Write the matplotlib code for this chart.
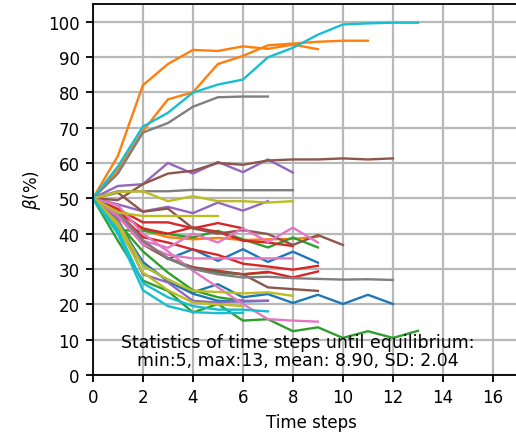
import matplotlib
matplotlib.use("Agg")
import matplotlib.pyplot as plt

# beta trajectories (%) per run, one value per time step, grouped by colour
BLUE = [
    [50, 46, 38, 32.8, 35.6, 32.3, 35.6, 32, 34.9, 31.8],
    [50, 44, 31, 27, 23.4, 25.7, 22, 22.9, 20.4, 22.7, 20.1, 22.7, 20.1],
    [50, 43, 32, 26.5, 23, 21, 20.8, 21],
]
ORANGE = [
    [50, 62, 82, 88, 92, 91.7, 93, 92.3, 93.5, 92.2],
    [50, 58, 69, 78, 80, 88, 90.3, 93.3, 93.8, 94.3, 94.6, 94.6],
    [50, 47, 41, 39, 38.4, 38.8, 38.2, 38.4, 38.5, 39.1],
]
GREEN = [
    [50, 38, 26.7, 23.8, 17.7, 20.1, 15.4, 15.8, 12.4, 13.5, 10.5, 12.4, 10.5, 12.5],
    [50, 41, 40.8, 39.9, 38.9, 40.8, 38.4, 36.1, 38.9, 36.1],
    [50, 45, 38, 33, 30, 29, 28.5, 29],
    [50, 43, 35, 29, 24, 22, 21],
]
RED = [
    [50, 47, 43.2, 43.2, 41.5, 43, 41.5],
    [50, 46, 39, 37.5, 35.5, 34, 31.5, 30.7, 29.8, 30.9],
    [50, 45, 37, 33, 30.5, 29.5, 28.5, 29.2, 27.6, 29.3],
    [50, 46, 41.5, 40, 41.8, 40.5, 38, 37.5, 36.5],
]
PURPLE = [
    [50, 53.5, 54, 60, 57, 60.3, 57.4, 61, 57.3],
    [50, 48.3, 46.3, 47.6, 45.8, 48.8, 46.5, 49.2],
    [50, 44, 28.5, 26.2, 21, 20.5, 21, 21],
]
BROWN = [
    [50, 49.5, 54, 57, 57.8, 60, 59.5, 60.7, 61, 61, 61.3, 61, 61.3],
    [50, 51.6, 46.2, 47.1, 41.5, 40, 41, 39.9, 36.8, 39.6, 36.8],
    [50, 46, 37, 33, 30.4, 29.3, 28.5, 24.8, 24.3, 23.8],
]
PINK = [
    [50, 46, 38, 36, 40, 37.5, 41.5, 37.7, 41.7, 37.5],
    [50, 45, 37, 34, 33, 33, 33, 33, 33],
    [50, 48, 40, 35, 29.5, 24.8, 20.1, 15.8, 15.4, 15.1],
]
GRAY = [
    [50, 57, 68.6, 71.3, 75.9, 78.6, 78.8, 78.8],
    [50, 52, 52, 52, 52.4, 52.3, 52.3, 52.3, 52.3],
    [50, 46, 38, 33, 30, 28.5, 27.6, 27.8, 27.4, 27.2, 27, 27.1, 26.9],
]
OLIVE = [
    [50, 51.8, 52, 49.2, 50.6, 49.2, 49.2, 48.8, 49.2],
    [50, 46, 45, 45, 45, 45],
    [50, 43, 31, 27, 23.8, 23.5, 23.1, 23.4, 22.4],
    [50, 42, 29, 24, 20.5, 20, 19.5],
]
CYAN = [
    [50, 59, 70.3, 74.2, 79.9, 82.2, 83.6, 89.9, 92.6, 96.3, 99.2, 99.5, 99.7, 99.7],
    [50, 41, 26, 22, 19.5, 18.5, 18.5, 18],
    [50, 40, 24, 19.5, 17.8, 17.5, 17.6],
]

GROUPS = [BLUE, ORANGE, GREEN, RED, PURPLE, BROWN, PINK, GRAY, OLIVE, CYAN]

STATS = "Statistics of time steps until equilibrium:\nmin:5, max:13, mean: 8.90, SD: 2.04"

plt.rcParams["font.size"] = 12

fig = plt.figure(figsize=(5.16, 4.35), dpi=100)
# axes run past the right edge of the figure
ax = fig.add_axes([0.180, 0.1356, 0.848, 0.853])

for k, group in enumerate(GROUPS):
    for series in group:
        ax.plot(range(len(series)), series, color=f"C{k}", lw=1.7)

ax.set_xlim(0, 17.5)
ax.set_ylim(0, 105)
ax.set_xticks(range(0, 17, 2))
ax.set_yticks(range(0, 101, 10))
ax.grid(True, color="#b8b8b8", lw=1.6)
ax.set_axisbelow(True)
for s in ax.spines.values():
    s.set_linewidth(1.3)
ax.spines["right"].set_visible(False)
ax.tick_params(length=5, width=1.3, pad=4.5)
ax.set_xlabel("Time steps", labelpad=5)
ax.set_ylabel(r"$\beta$(%)")
ax.text(8.2, 6.8, STATS, ha="center", va="center", fontsize=12.5, linespacing=1.0)

fig.savefig("out.png", dpi=100)
